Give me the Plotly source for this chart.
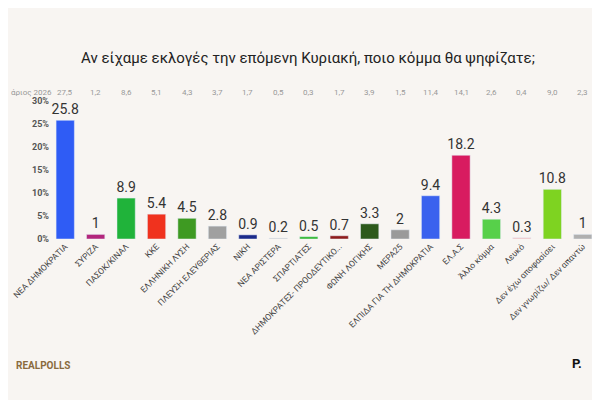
import plotly.graph_objects as go

parties = ["ΝΕΑ ΔΗΜΟΚΡΑΤΙΑ","ΣΥΡΙΖΑ","ΠΑΣΟΚ/ΚΙΝΑΛ","ΚΚΕ","ΕΛΛΗΝΙΚΗ ΛΥΣΗ","ΠΛΕΥΣΗ ΕΛΕΥΘΕΡΙΑΣ",
           "ΝΙΚΗ","ΝΕΑ ΑΡΙΣΤΕΡΑ","ΣΠΑΡΤΙΑΤΕΣ","ΔΗΜΟΚΡΑΤΕΣ- ΠΡΟΟΔΕΥΤΙΚΟ...","ΦΩΝΗ ΛΟΓΙΚΗΣ","ΜΕΡΑ25",
           "ΕΛΠΙΔΑ ΓΙΑ ΤΗ ΔΗΜΟΚΡΑΤΙΑ","ΕΛ.Α.Σ","Άλλο κόμμα","Λευκό","Δεν έχω αποφασίσει","Δεν γνωρίζω/ Δεν απαντώ"]
values = [25.8,1,8.9,5.4,4.5,2.8,0.9,0.2,0.5,0.7,3.3,2,9.4,18.2,4.3,0.3,10.8,1]
previous = ["27,5","1,2","8,6","5,1","4,3","3,7","1,7","0,5","0,3","1,7","3,9","1,5","11,4","14,1","2,6","0,4","9,0","2,3"]
colors = ["#2f5cf5","#b3267c","#20b33a","#f0321e","#3e9a22","#a0a0a0","#1b2a8a","#c8c8c8","#2fb82f",
          "#8e1c1c","#2d5a1c","#9a9a9a","#3a62ee","#d81b60","#57d04a","#f3c2c2","#7ed321","#b0b0b0"]
labels = [f"{v:g}" for v in values]
yticks = [0,5,10,15,20,25,30]

fig = go.Figure(go.Bar(x=parties, y=values, marker_color=colors, width=0.6,
                       text=labels, textposition="outside", cliponaxis=False, constraintext="none",
                       textfont=dict(size=14, color="#333", family="Roboto")))
for p, t in zip(parties, previous):
    fig.add_annotation(x=p, y=1.11, yref="paper", text=t, showarrow=False,
                       font=dict(size=8, color="#999", family="Roboto"))
fig.update_layout(
    width=600, height=400, paper_bgcolor="#f8f5f2", plot_bgcolor="#f8f5f2",
    margin=dict(l=42, r=10, t=93, b=169, autoexpand=False), showlegend=False, bargap=0.4,
    font=dict(family="Roboto"),
    title=dict(text="Αν είχαμε εκλογές την επόμενη Κυριακή, ποιο κόμμα θα ψηφίζατε;",
               x=0.5, xanchor="center", y=0.89, font=dict(size=15, color="#222")),
    xaxis=dict(tickangle=-45, tickfont=dict(size=8.5, color="#444", family="Roboto"),
               showgrid=False, showline=False, automargin=False),
    yaxis=dict(range=[0, 30], tickvals=yticks, ticktext=[f"<b>{v}%</b>" for v in yticks],
               tickfont=dict(size=9, color="#555", family="Roboto"),
               showgrid=False, zeroline=False, automargin=False),
)
fig.add_annotation(text="άριος 2026", xref="paper", yref="paper", x=-0.075, y=1.11,
                   xanchor="left", showarrow=False, font=dict(size=8, color="#999"))
fig.add_annotation(text="<b>REALPOLLS</b>", xref="paper", yref="paper", x=-0.065, y=-0.97,
                   xanchor="left", showarrow=False, font=dict(size=10, color="#8a6b3e"))
fig.add_annotation(text="<b>P.</b>", xref="paper", yref="paper", x=0.975, y=-0.97,
                   xanchor="right", showarrow=False, font=dict(size=13, color="#111"))
fig.write_html("out.html")
